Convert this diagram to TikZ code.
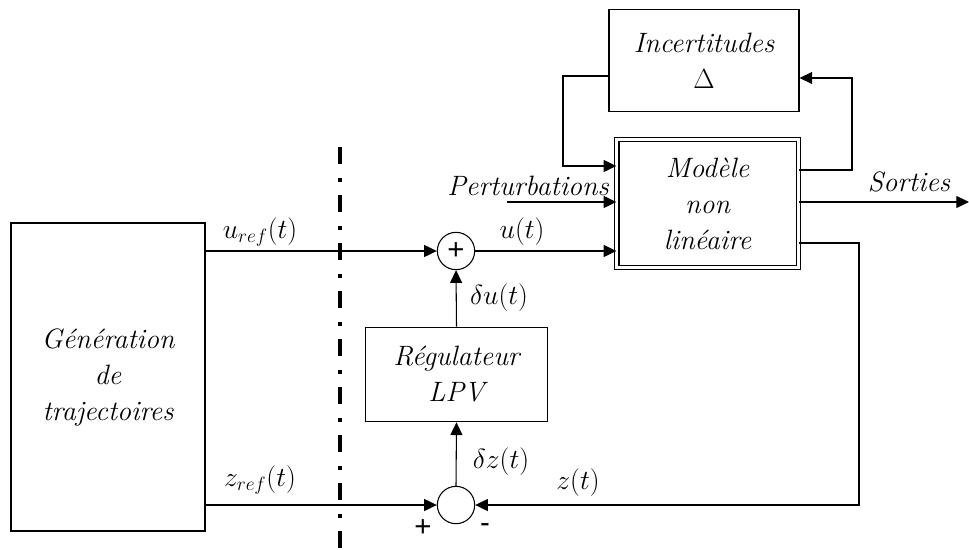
\documentclass[tikz,border=0pt]{standalone}
\usepackage{fontspec}
\newfontfamily\arialfont{Liberation Sans}
\usepackage{tikz}
\usetikzlibrary{arrows.meta}

\begin{document}
\begin{tikzpicture}[x=0.75pt,y=-0.75pt,
    font=\fontsize{21}{27}\selectfont\itshape,
    bloc/.style={draw,line width=0.8pt,rectangle,align=center,inner sep=0pt},
    somme/.style={draw,line width=0.8pt,circle,minimum size=28pt,inner sep=0pt},
    arr/.style={line width=0.8pt,-{Triangle[length=9.5pt,width=9pt]}},
    lab/.style={inner sep=0pt}]
    \useasboundingbox (0,0) rectangle (969,549);

    % blocs
    \node[bloc,minimum width=145.5pt,minimum height=231pt] (gen) at (108,377) {G\'en\'eration\\de\\trajectoires};
    \node[bloc,minimum width=136pt,minimum height=71pt] (lpv) at (456.5,374.5) {R\'egulateur\\LPV};
    \node[bloc,minimum width=142.5pt,minimum height=76pt] (inc) at (704,60.5) {Incertitudes\\$\Delta$};
    \node[bloc,double,double distance=2.4pt,minimum width=136pt,minimum height=96pt] (model) at (707.5,203.5) {Mod\`ele\\non\\lin\'eaire};
    \node[somme,font=\arialfont\fontsize{22}{22}\selectfont] (sum1) at (456,251) {+};
    \node[somme] (sum2) at (456,505) {};

    % coordonnees
    \coordinate (incL) at (563,76);
    \coordinate (incD) at (563,166);
    \coordinate (incR) at (852,78);
    \coordinate (mdU) at (852,170);
    \coordinate (zc) at (859,243);
    \coordinate (pert) at (507,202);
    \coordinate (out) at (969,202);

    % liaisons
    \draw[arr] (gen.east |- sum1) -- (sum1);
    \draw[arr] (sum1) -- (model.west |- sum1);
    \draw[arr] (lpv.north) -- (sum1.south);
    \draw[arr] (sum2.north) -- (lpv.south);
    \draw[arr] (gen.east |- sum2) -- (sum2);
    \draw[arr] (model.east |- zc) -- (zc) |- (sum2);
    \draw[arr] (inc.west |- incL) -- (incL) -- (incD) -- (model.west |- incD);
    \draw[arr] (model.east |- mdU) -- (mdU) -- (incR) -- (inc.east |- incR);
    \draw[arr] (pert) -- (model.west |- pert);
    \draw[arr] (model.east |- out) -- (out);

    % separation
    \draw[line width=3pt,dash pattern=on 12.75pt off 10.5pt on 3pt off 9.75pt] (340,147) -- (340,549);

    % etiquettes
    \node[lab] (uref) at (260,232) {$u_{ref}(t)$};
    \node[lab] (zref) at (260,480) {$z_{ref}(t)$};
    \node[lab] (u) at (522,232) {$u(t)$};
    \node[lab] (du) at (499,298) {$\delta u(t)$};
    \node[lab] (dz) at (501,462) {$\delta z(t)$};
    \node[lab] (z) at (578,483) {$z(t)$};
    \node[lab,anchor=east] (pt) at (609,186) {Perturbations};
    \node[lab] (so) at (909,182) {Sorties};
    \node[lab,font=\arialfont\fontsize{22}{22}\selectfont] (plus) at (423,528) {+};
    \node[lab,font=\arialfont\fontsize{22}{22}\selectfont] (moins) at (485,528) {-};
\end{tikzpicture}
\end{document}
